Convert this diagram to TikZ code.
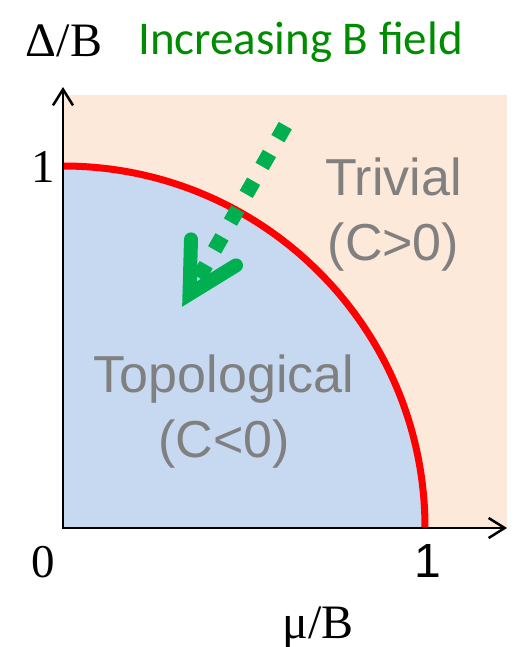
\documentclass[tikz,border=0pt]{standalone}
\usepackage{fontspec}
\setmainfont{Liberation Serif}
\newfontfamily\arialfont{Liberation Sans}
\newfontfamily\calibrifont{Carlito}
\usepackage{tikz}
\usetikzlibrary{arrows.meta}

\definecolor{trivbg}{RGB}{253,233,217}
\definecolor{topobg}{RGB}{198,217,241}
\definecolor{fieldgreen}{RGB}{0,176,80}
\definecolor{textgreen}{RGB}{0,140,0}
\definecolor{phasegray}{RGB}{128,128,128}

\begin{document}
\begin{tikzpicture}[x=0.5pt, y=-0.5pt,
  axis/.style={line width=1.25pt, line join=miter,
               {Straight Barb[length=8pt,width=10pt]}-{Straight Barb[length=8pt,width=10pt]}},
  boundary/.style={line width=3.5pt, red},
  phase/.style={font=\arialfont\fontsize{26}{32.5}\selectfont, text=phasegray, align=center},
  axlabel/.style={font=\fontsize{24}{28}\selectfont, anchor=base},
  numlabel/.style={font=\fontsize{23.5}{28}\selectfont, anchor=base}
]
\useasboundingbox (0,0) rectangle (514,647);

% Phase regions (y=528 is the mu axis)
\fill[trivbg] (63,95) rectangle (507,528);
\fill[topobg] (63,528) -- (63,166) arc[start angle=-90, end angle=0, radius=362] -- cycle;
\draw[boundary] (63,166) arc[start angle=-90, end angle=0, radius=362];

% Axes
\coordinate (origin) at (63,528);
\coordinate (ytop)   at (63,87);
\coordinate (xend)   at (507,528);
\draw[axis] (ytop) -- (origin) -- (xend);

% Field arrow
\coordinate (fstart)  at (285.3,125.6);
\coordinate (fvertex) at (189.5,294);
\coordinate (fleft)   at (191,239.4);
\coordinate (fright)  at (236,265.4);
\draw[fieldgreen, line width=7.5pt, dash pattern=on 7.5pt off 8.5pt] (fstart) -- (fvertex);
\draw[fieldgreen, line width=7pt, line cap=round, line join=miter] (fleft) -- (fvertex) -- (fright);

% Labels
\node[axlabel]  (ylab)  at (64,57)   {Δ/B};
\node[axlabel]  (xlab)  at (318,638) {μ/B};
\node[font=\calibrifont\fontsize{23.5}{28}\selectfont, text=textgreen, anchor=base]
                (field) at (300.5,55) {Increasing B field};
\node[numlabel] (yone)  at (43,182)  {1};
\node[numlabel] (zero)  at (43,577)  {0};
\node[numlabel, font=\arialfont\fontsize{24}{28}\selectfont] (xone) at (428,577) {1};

\node[phase] (trivial) at (393.5,215) {Trivial\\(C>0)};
\node[phase] (topo)    at (224,412)   {Topological\\(C<0)};
\end{tikzpicture}
\end{document}
